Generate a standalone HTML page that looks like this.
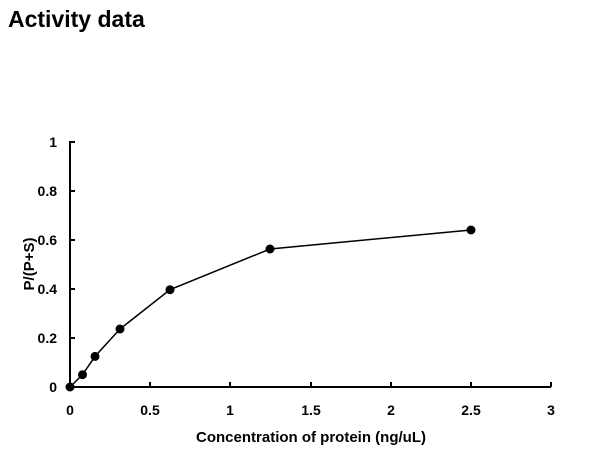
<!DOCTYPE html>
<html><head><style>body{margin:0;background:#fff;}svg{display:block;font-family:"Liberation Sans",Arial,sans-serif;font-weight:bold;}</style></head>
<body>
<svg width="608" height="461" viewBox="0 0 608 461" xmlns="http://www.w3.org/2000/svg">
<text x="8" y="27" font-size="23">Activity data</text>
<g stroke="#000" stroke-width="2" fill="none">
<line x1="70" y1="141" x2="70" y2="388"/>
<line x1="69" y1="387" x2="551" y2="387"/>
<line x1="70" y1="142" x2="75" y2="142"/>
<line x1="70" y1="191" x2="75" y2="191"/>
<line x1="70" y1="240" x2="75" y2="240"/>
<line x1="70" y1="289" x2="75" y2="289"/>
<line x1="70" y1="338" x2="75" y2="338"/>
<line x1="150" y1="387" x2="150" y2="382"/>
<line x1="230" y1="387" x2="230" y2="382"/>
<line x1="311" y1="387" x2="311" y2="382"/>
<line x1="391" y1="387" x2="391" y2="382"/>
<line x1="471" y1="387" x2="471" y2="382"/>
<line x1="551" y1="387" x2="551" y2="382"/>
</g>
<polyline fill="none" stroke="#000" stroke-width="1.5" points="70,387 82.5,374.7 95,356.4 120,329 170,289.7 270,249 471,230"/>
<g fill="#000">
<circle cx="70" cy="387" r="4.5"/><circle cx="82.5" cy="374.7" r="4.5"/><circle cx="95" cy="356.4" r="4.5"/><circle cx="120" cy="329" r="4.5"/><circle cx="170" cy="289.7" r="4.5"/><circle cx="270" cy="249" r="4.5"/><circle cx="471" cy="230" r="4.5"/>
</g>
<g font-size="14" text-anchor="end">
<text x="57" y="147">1</text><text x="57" y="196">0.8</text><text x="57" y="245">0.6</text><text x="57" y="294">0.4</text><text x="57" y="343">0.2</text><text x="57" y="392">0</text>
</g>
<g font-size="14" text-anchor="middle">
<text x="70" y="415">0</text><text x="150" y="415">0.5</text><text x="230" y="415">1</text><text x="311" y="415">1.5</text><text x="391" y="415">2</text><text x="471" y="415">2.5</text><text x="551" y="415">3</text>
</g>
<g font-size="15" text-anchor="middle">
<text x="311" y="442">Concentration of protein (ng/uL)</text>
<text transform="translate(34,264) rotate(-90)">P/(P+S)</text>
</g>
</svg>
</body></html>
